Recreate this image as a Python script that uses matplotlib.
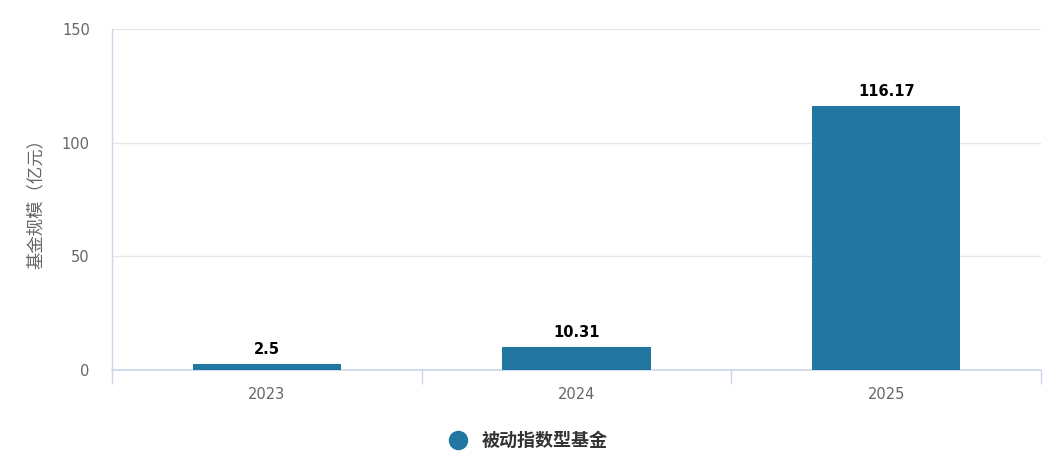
import matplotlib
matplotlib.use("Agg")
import matplotlib.pyplot as plt
from matplotlib.lines import Line2D
from matplotlib.ticker import FixedLocator

plt.rcParams['font.family'] = ['DejaVu Sans', 'Noto Sans CJK SC']

categories = ["2023", "2024", "2025"]
values = [2.5, 10.31, 116.17]
value_labels = ["2.5", "10.31", "116.17"]
series_name = "被动指数型基金"
y_label = "基金规模（亿元）"
y_ticks = [0, 50, 100, 150]

bar_color = "#2277a2"
cjk = ['Noto Sans CJK SC', 'DejaVu Sans']

fig = plt.figure(figsize=(10.59, 4.71), dpi=100)
ax = fig.add_axes([0.1058, 0.2145, 0.8772, 0.7239])

x = list(range(len(categories)))
ax.bar(x, values, width=0.48, color=bar_color, zorder=3)
for xi, v, lab in zip(x, values, value_labels):
    ax.annotate(lab, (xi, v), xytext=(0, 5), textcoords="offset points",
                ha="center", va="bottom", fontsize=10.5, fontweight="bold",
                color="#000000")

ax.set_xlim(-0.5, len(categories) - 0.5)
ax.set_ylim(0, 150)
ax.set_yticks(y_ticks)
ax.set_yticklabels([str(t) for t in y_ticks], color="#666666", fontsize=10.5)
ax.set_xticks(x)
ax.set_xticklabels(categories, color="#666666", fontsize=10.5)
ax.tick_params(axis="x", length=0, pad=12)
ax.tick_params(axis="y", length=0, pad=16)
ax.xaxis.set_minor_locator(FixedLocator([-0.5 + i for i in range(len(categories) + 1)]))
ax.tick_params(axis="x", which="minor", length=10, color="#ccd6eb", width=1)

ax.grid(axis="y", color="#e6e6e6", linewidth=1, zorder=0)
for s in ["top", "right"]:
    ax.spines[s].set_visible(False)
ax.spines["left"].set_color("#ccd6eb")
ax.spines["bottom"].set_color("#ccd6eb")
ax.spines["left"].set_linewidth(1)
ax.spines["bottom"].set_linewidth(1.2)

ax.set_ylabel(y_label, color="#666666", fontsize=12.5, labelpad=12, family=cjk)

handle = Line2D([], [], marker="o", linestyle="none", markersize=13,
                markerfacecolor=bar_color, markeredgecolor=bar_color)
leg = fig.legend([handle], [series_name], loc="center", bbox_to_anchor=(0.495, 0.065),
                 frameon=False, handletextpad=0.3,
                 prop={"weight": "bold", "size": 13, "family": cjk})
for t in leg.get_texts():
    t.set_color("#333333")

fig.savefig("out.png", dpi=100)
